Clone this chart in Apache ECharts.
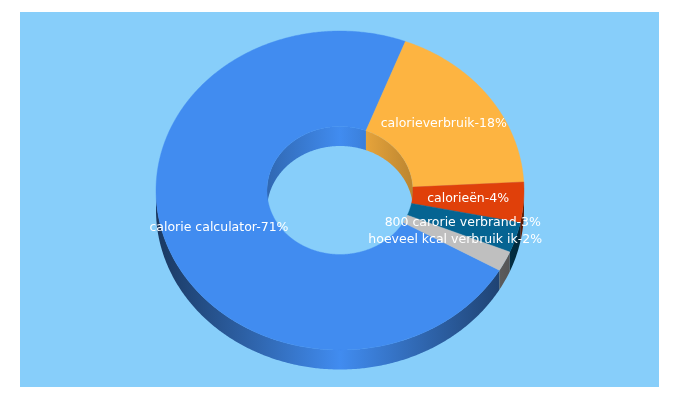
<!DOCTYPE html>
<html>
<head>
<meta charset="utf-8">
<style>html,body{margin:0;padding:0;background:#fff}#c{width:680px;height:400px}</style>
<script src="https://cdn.jsdelivr.net/npm/echarts@6/dist/echarts.min.js"></script>
</head>
<body>
<div id="c"></div>
<script>
const categories = ['calorie calculator', 'calorieverbruik', 'calorieën', '800 carorie verbrand', 'hoeveel kcal verbruik ik'];
const values = [71, 18, 4, 3, 2];
const colors = ['#418cf0', '#fdb441', '#e0400a', '#056492', '#bfbfbf'];

const chart = echarts.init(document.getElementById('c'), null, {renderer: 'canvas'});
const cx = 340, cy = 190.5, rx = 184, ry = 159.5, irx = 73, iry = 64, depth = 19.5, startDeg = 120;
const total = values.reduce((a, b) => a + b, 0);

function pt(deg, a, b, dy) {
  const t = deg * Math.PI / 180;
  return [cx + a * Math.sin(t), cy - b * Math.cos(t) + (dy || 0)];
}
function arc(d0, d1, a, b, dy) {
  const out = [], n = Math.max(2, Math.ceil(Math.abs(d1 - d0) * 2));
  for (let i = 0; i <= n; i++) out.push(pt(d0 + (d1 - d0) * i / n, a, b, dy));
  return out;
}
function shade(hex, f) {
  const n = parseInt(hex.slice(1), 16);
  const c = [n >> 16 & 255, n >> 8 & 255, n & 255].map(v => Math.round(v * f));
  return 'rgb(' + c.join(',') + ')';
}
function wallGrad(color, halfW, k) {
  const x0 = cx - halfW, x1 = cx + halfW;
  return new echarts.graphic.LinearGradient(x0, 0, x1, 0, [
    {offset: 0, color: shade(color, 1 - k)},
    {offset: 0.5, color: shade(color, 1)},
    {offset: 1, color: shade(color, 1 - k)}
  ], true);
}
// Overlap of [a,b] with the visible window [w0,w1], also trying one turn either way
function overlaps(a, b, w0, w1) {
  const res = [];
  for (const s of [-360, 0, 360]) {
    const lo = Math.max(a, w0 + s), hi = Math.min(b, w1 + s);
    if (hi > lo) res.push([lo, hi]);
  }
  return res;
}
function renderItem(params, api) {
  const i = params.dataIndex;
  let before = 0;
  for (let k = 0; k < i; k++) before += values[k];
  const v = api.value(0);
  const d0 = startDeg + before / total * 360;
  const d1 = d0 + v / total * 360;
  const color = colors[i];
  const children = [];
  overlaps(d0, d1, -90, 90).forEach(([a, b]) => {
    children.push({
      type: 'polygon', z2: 1,
      shape: {points: arc(a, b, irx, iry, 0).concat(arc(b, a, irx, iry, depth))},
      style: {fill: wallGrad(color, irx, 0.26)}
    });
  });
  overlaps(d0, d1, 90, 270).forEach(([a, b]) => {
    children.push({
      type: 'polygon', z2: 2,
      shape: {points: arc(a, b, rx, ry, 0).concat(arc(b, a, rx, ry, depth))},
      style: {fill: wallGrad(color, rx, 0.6)}
    });
  });
  children.push({
    type: 'polygon', z2: 3 + i * 0.01,
    shape: {points: arc(d0, d1, rx, ry, 0).concat(arc(d1, d0, irx, iry, 0))},
    style: {fill: color, stroke: color, lineWidth: 0.4}
  });
  const mid = pt((d0 + d1) / 2, (rx + irx) / 2, (ry + iry) / 2, 0);
  children.push({
    type: 'text', z2: 10,
    style: {
      text: categories[i] + '-' + v + '%',
      x: mid[0], y: mid[1] - 0.5,
      fill: '#fff',
      font: '12.5px "DejaVu Sans"',
      align: 'center', verticalAlign: 'middle'
    }
  });
  return {type: 'group', children};
}
chart.setOption({
  animation: false,
  backgroundColor: '#fff',
  graphic: [{
    type: 'rect', z: -10, silent: true,
    shape: {x: 20, y: 12, width: 639, height: 375},
    style: {fill: '#87cefa'}
  }],
  series: [{
    type: 'custom',
    coordinateSystem: 'none',
    silent: true,
    clip: false,
    renderItem,
    data: values.map((v, i) => ({name: categories[i], value: [v]}))
  }]
});
</script>
</body>
</html>
